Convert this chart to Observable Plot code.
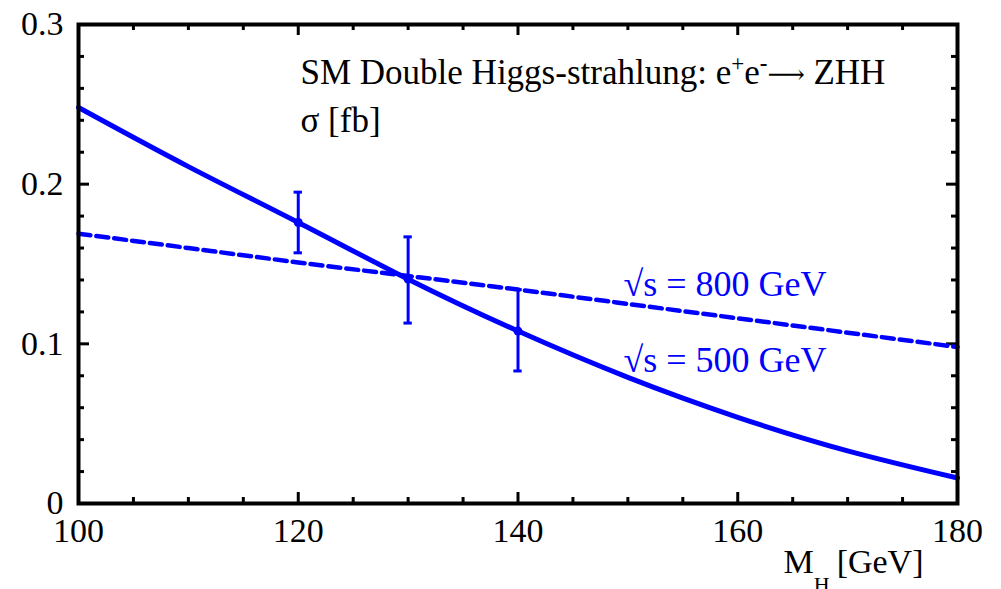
<!DOCTYPE html>
<html><head><meta charset="utf-8">
<script src="https://cdn.jsdelivr.net/npm/d3@7"></script>
<script src="https://cdn.jsdelivr.net/npm/@observablehq/plot@0.6"></script>
<style>
html,body{margin:0;padding:0;background:#fff;overflow:hidden}
svg, svg text, svg tspan { font-family: "Liberation Serif", "Times New Roman", "DejaVu Serif", serif !important; }
</style>
</head><body><div id="chart"></div>
<script>
// ---- data ----
const massGeV   = [100, 110, 120, 130, 140, 150, 160, 170, 180];
const sigma500  = [0.248, 0.211, 0.176, 0.1405, 0.108, 0.079, 0.054, 0.033, 0.016];
const sigma800  = [0.169, 0.160, 0.151, 0.1425, 0.134, 0.125, 0.116, 0.107, 0.098];
const errMass    = [120, 130, 140];
const errCentral = [0.176, 0.1405, 0.108];
const errLow     = [0.157, 0.113, 0.083];
const errHigh    = [0.195, 0.167, 0.134];
const xTicksMajor = [100, 120, 140, 160, 180];
const xTicksMinor = [105, 110, 115, 125, 130, 135, 145, 150, 155, 165, 170, 175];
const yTicksMajor = [0, 0.1, 0.2, 0.3];
const yTicksMinor = [0.02, 0.04, 0.06, 0.08, 0.12, 0.14, 0.16, 0.18, 0.22, 0.24, 0.26, 0.28];
const curveLabels = ["√s = 800 GeV", "√s = 500 GeV"];
const labelMass   = [149.6, 149.6];
const labelSigma  = [0.13, 0.0822];
const titleText = "SM Double Higgs-strahlung: e+e-⟶ ZHH";
const unitText = "σ [fb]";

// ---- build ----
const W = 1001, H = 589;
const mT = 24, mB = 86, mL = 78, mR = 44;
const PH = H - mT - mB, PW = W - mL - mR;
const BLUE = "#0000ff";
const FONT = "Liberation Serif, Times New Roman, serif";

const line500 = massGeV.map((m, i) => ({m, s: sigma500[i]}));
const line800 = massGeV.map((m, i) => ({m, s: sigma800[i]}));
const errs = errMass.map((m, i) => ({m, c: errCentral[i], lo: errLow[i], hi: errHigh[i]}));
const labels = curveLabels.map((t, i) => ({t, m: labelMass[i], s: labelSigma[i]}));

const chart = Plot.plot({
  width: W, height: H,
  marginTop: mT, marginBottom: mB, marginLeft: mL, marginRight: mR,
  style: {fontFamily: FONT, background: "#fff", color: "#000"},
  x: {domain: [100, 180]},
  y: {domain: [0, 0.3]},
  marks: [
    Plot.tickX(xTicksMinor, {x: d => d, insetTop: PH - 6, stroke: "#000", strokeWidth: 3}),
    Plot.tickX(xTicksMajor, {x: d => d, insetTop: PH - 11, stroke: "#000", strokeWidth: 3}),
    Plot.tickX(xTicksMinor, {x: d => d, insetBottom: PH - 6, stroke: "#000", strokeWidth: 3}),
    Plot.tickX(xTicksMajor, {x: d => d, insetBottom: PH - 11, stroke: "#000", strokeWidth: 3}),
    Plot.tickY(yTicksMinor, {y: d => d, insetRight: PW - 6, stroke: "#000", strokeWidth: 3}),
    Plot.tickY(yTicksMajor, {y: d => d, insetRight: PW - 11, stroke: "#000", strokeWidth: 3}),
    Plot.tickY(yTicksMinor, {y: d => d, insetLeft: PW - 6, stroke: "#000", strokeWidth: 3}),
    Plot.tickY(yTicksMajor, {y: d => d, insetLeft: PW - 11, stroke: "#000", strokeWidth: 3}),
    Plot.axisX({ticks: xTicksMajor, tickSize: 0, tickPadding: 14, fontSize: 34, fontFamily: FONT, tickFormat: d => String(d), label: null}),
    Plot.axisY({ticks: yTicksMajor, tickSize: 0, tickPadding: 15, fontSize: 34, fontFamily: FONT, tickFormat: d => String(d), label: null}),
    Plot.line(line800, {x: "m", y: "s", stroke: BLUE, strokeWidth: 4.5, strokeDasharray: "12,6", curve: "natural"}),
    Plot.line(line500, {x: "m", y: "s", stroke: BLUE, strokeWidth: 5, curve: "natural"}),
    Plot.ruleX(errs, {x: "m", y1: "lo", y2: "hi", stroke: BLUE, strokeWidth: 3}),
    Plot.ruleY(errs, {y: "lo", x1: d => d.m - 0.38, x2: d => d.m + 0.38, stroke: BLUE, strokeWidth: 3}),
    Plot.ruleY(errs, {y: "hi", x1: d => d.m - 0.38, x2: d => d.m + 0.38, stroke: BLUE, strokeWidth: 3}),
    Plot.dot(errs, {x: "m", y: "c", r: 4.5, fill: BLUE, stroke: null}),
    Plot.text(labels, {x: "m", y: "s", text: "t", fill: BLUE, fontSize: 36, fontFamily: FONT, textAnchor: "start", lineAnchor: "bottom"}),
    Plot.text([titleText], {frameAnchor: "top-left", dx: 222, dy: 59, fontSize: 35, fontFamily: FONT, textAnchor: "start", lineAnchor: "bottom", fill: "#000", className: "ttl"}),
    Plot.text([unitText], {frameAnchor: "top-left", dx: 222, dy: 107, fontSize: 35, fontFamily: FONT, textAnchor: "start", lineAnchor: "bottom", fill: "#000"}),
    Plot.text(["M_H [GeV]"], {frameAnchor: "bottom-right", dx: -34, dy: 69, fontSize: 34, fontFamily: FONT, textAnchor: "end", lineAnchor: "bottom", fill: "#000", className: "xlab"}),
    Plot.frame({stroke: "#000", strokeWidth: 4})
  ]
});
document.getElementById("chart").appendChild(chart);

const svg = d3.select(chart);
const tt = svg.select("g.ttl text");
tt.text("SM Double Higgs-strahlung: e");
tt.append("tspan").attr("dy", -13).attr("font-size", 23).text("+");
tt.append("tspan").attr("dy", 13).text("e");
tt.append("tspan").attr("dy", -13).attr("font-size", 23).attr("font-weight", "bold").text("-");
tt.append("tspan").attr("dy", 12).attr("font-size", 26).text("⟶");
tt.append("tspan").attr("dy", 1).text(" ZHH");

const xl = svg.select("g.xlab text");
xl.text("M");
xl.append("tspan").attr("dy", 19).attr("font-size", 22).text("H");
xl.append("tspan").attr("dy", -19).attr("dx", 7).text("[GeV]");
</script>
</body></html>
